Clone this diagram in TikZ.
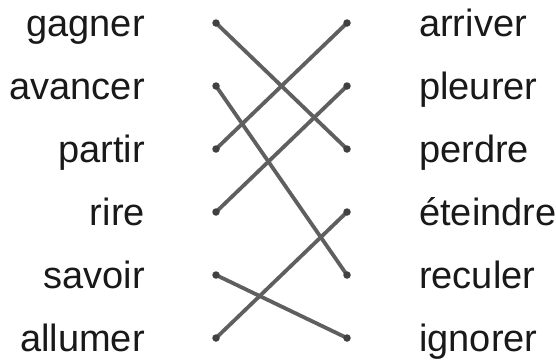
\documentclass[tikz,border=0pt]{standalone}
\usepackage{fontspec}
\setmainfont{Liberation Sans}
\definecolor{txt}{RGB}{25,25,25}
\definecolor{ln}{RGB}{95,95,95}
\definecolor{dt}{RGB}{65,65,65}
\begin{document}
\begin{tikzpicture}[x=1pt,y=-1pt,
  word/.style={inner sep=0pt,text=txt,font=\fontsize{38}{42}\selectfont},
  lword/.style={word,anchor=base east},
  rword/.style={word,anchor=base west},
  link/.style={draw=ln,line width=3.8pt,line cap=round},
  dot/.style={circle,fill=dt,inner sep=0pt,minimum size=7.5pt}]
\useasboundingbox (0,0) rectangle (556,360);
% words
\node[lword] (w1) at (145,36) {gagner};
\node[lword] (w2) at (145,99) {avancer};
\node[lword] (w3) at (145,162) {partir};
\node[lword] (w4) at (145,225) {rire};
\node[lword] (w5) at (145,288) {savoir};
\node[lword] (w6) at (145,351) {allumer};
\node[rword] (v1) at (419,36) {arriver};
\node[rword] (v2) at (419,99) {pleurer};
\node[rword] (v3) at (419,162) {perdre};
\node[rword] (v4) at (419,225) {éteindre};
\node[rword] (v5) at (419,288) {reculer};
\node[rword] (v6) at (419,351) {ignorer};
% dot positions
\foreach \i in {1,...,6}{
  \coordinate (L\i) at (216,{23+63*(\i-1)});
  \coordinate (R\i) at (347,{23+63*(\i-1)});
}
% connectors
\draw[link] (L1) -- (R3);
\draw[link] (L2) -- (R5);
\draw[link] (L3) -- (R1);
\draw[link] (L4) -- (R2);
\draw[link] (L5) -- (R6);
\draw[link] (L6) -- (R4);
% dots
\foreach \i in {1,...,6}{
  \node[dot] (dl\i) at (L\i) {};
  \node[dot] (dr\i) at (R\i) {};
}
\end{tikzpicture}
\end{document}
